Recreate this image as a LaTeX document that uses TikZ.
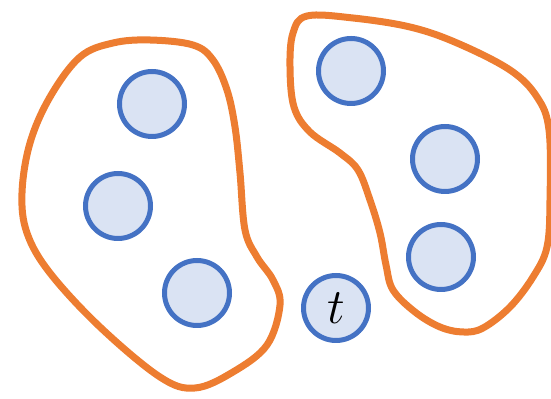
\documentclass[tikz,border=0pt]{standalone}
\usepackage{xcolor}
\usepackage{tikz}
\definecolor{blobOrange}{HTML}{ED7D31}
\definecolor{nodeBlue}{HTML}{4472C4}
\definecolor{nodeFill}{HTML}{DAE3F3}
\begin{document}
\begin{tikzpicture}[x=0.5pt, y=-0.5pt,
    member/.style={circle, draw=nodeBlue, fill=nodeFill, line width=2.5pt, minimum size=32.5pt, inner sep=0pt},
    cluster/.style={draw=blobOrange, line width=3.5pt, line join=round}]
      \useasboundingbox (0,0) rectangle (551,399);

      % left group
      \draw[cluster] plot[smooth cycle, tension=0.6] coordinates {
        (150,40) (193,45) (213,60) (227,90) (235,127) (240,173) (245,230)
        (257,257) (273,280) (280,305) (267,345) (233,372) (195,388) (160,377)
        (100,327) (50,273) (27,233) (22,193) (30,143) (50,97) (80,57) (113,43)};

      % right group
      \draw[cluster] plot[smooth cycle, tension=0.6] coordinates {
        (307,16) (353,18) (410,27) (457,43) (510,70) (537,97) (549,130)
        (550,200) (547,247) (533,277) (510,307) (483,328) (463,332) (440,327)
        (415,312) (393,290) (386,265) (380,233) (370,200) (358,170) (340,153)
        (310,132) (294,107) (290,67) (293,33)};

      \foreach \n/\x/\y in {v1/152/104, v2/118/206, v3/197/293, v4/351/71, v5/445/159, v6/441/257} {
        \node[member] (\n) at (\x,\y) {};
      }
      \node[member, font=\fontsize{28}{32}\selectfont] (t) at (336,308) {$t$};
    \end{tikzpicture}
\end{document}
